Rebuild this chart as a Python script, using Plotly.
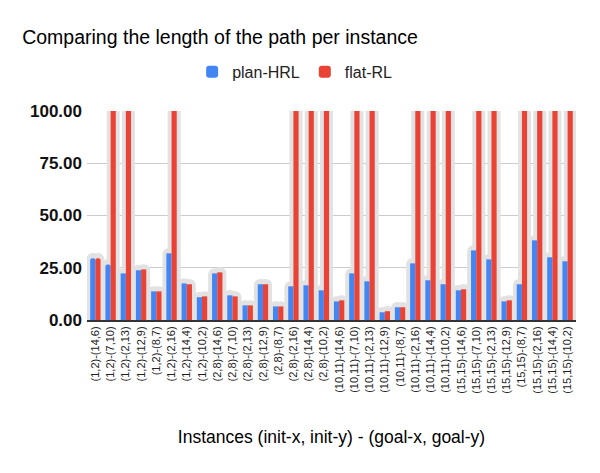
import plotly.graph_objects as go

inits = ["(1,2)", "(2,8)", "(10,11)", "(15,15)"]
goals = ["(14,6)", "(7,10)", "(2,13)", "(12,9)", "(8,7)", "(2,16)", "(14,4)", "(10,2)"]
instances = [i + "-" + g for i in inits for g in goals]

plan_hrl = [29.5, 26.6, 22.3, 23.8, 13.7, 31.9, 17.5, 10.9,
            22.3, 11.8, 7.0, 17.1, 6.5, 16.1, 16.6, 14.2,
            8.9, 22.3, 18.5, 3.7, 6.1, 27.1, 19.0, 17.1,
            14.2, 33.3, 29.0, 8.9, 17.1, 38.1, 30.0, 28.1]
flat_rl = [29.5, 100, 100, 24.2, 13.7, 100, 17.1, 11.3,
           22.8, 11.3, 7.0, 17.1, 6.5, 100, 100, 100,
           9.4, 100, 100, 4.2, 6.1, 100, 100, 100,
           14.7, 100, 100, 9.4, 100, 100, 100, 100]

bw = 0.34   # bar width (category units)
sw = 0.85   # shadow width

fig = go.Figure()
# soft gray shadow behind every bar (like the sheets chart style)
for vals, centre in [(plan_hrl, -bw / 2), (flat_rl, bw / 2)]:
    fig.add_trace(go.Bar(x=instances, y=[v + 2.5 for v in vals], width=sw, offset=centre - sw / 2,
                         marker=dict(color="#e2e2e2", cornerradius=7, line_width=0),
                         showlegend=False, hoverinfo="skip"))
fig.add_trace(go.Bar(x=instances, y=plan_hrl, name="plan-HRL", width=bw, offset=-bw,
                     marker=dict(color="#4285f4", cornerradius=2, line_width=0)))
fig.add_trace(go.Bar(x=instances, y=flat_rl, name="flat-RL", width=bw, offset=0.0,
                     marker=dict(color="#ea4335", cornerradius=2, line_width=0)))

fig.update_layout(
    width=600, height=473,
    barmode="overlay",
    paper_bgcolor="white", plot_bgcolor="white",
    font=dict(family="Liberation Sans, Arial, sans-serif", color="#222"),
    margin=dict(l=87, r=24, t=111, b=153),
    title=dict(text="Comparing the length of the path per instance",
               x=0.037, xanchor="left", y=0.922, yanchor="middle",
               font=dict(size=19.5, color="#000")),
    legend=dict(orientation="h", x=0.215, xanchor="left", y=1.187, yanchor="middle",
                font=dict(size=16, color="#222"), itemsizing="constant",
                itemwidth=30, traceorder="normal"),
    showlegend=True,
)
fig.update_xaxes(tickangle=-90, tickfont=dict(size=11, color="#222"),
                 showline=True, linecolor="#333", linewidth=2, automargin=False,
                 title=dict(text="Instances (init-x, init-y) - (goal-x, goal-y)",
                            font=dict(size=17.5, color="#000"), standoff=38),
                 range=[-0.55, 31.55])
fig.update_yaxes(range=[0, 100], tickvals=[0, 25, 50, 75, 100],
                 ticktext=["0.00", "25.00", "50.00", "75.00", "100.00"],
                 tickfont=dict(size=17, color="#111", weight="bold"),
                 ticklabelstandoff=4,
                 gridcolor="#cccccc", zeroline=False, ticks="", ticklen=0,
                 automargin=False)

fig.write_html("out.html", config={"displayModeBar": False},
               post_script="document.body.style.margin='0';")
